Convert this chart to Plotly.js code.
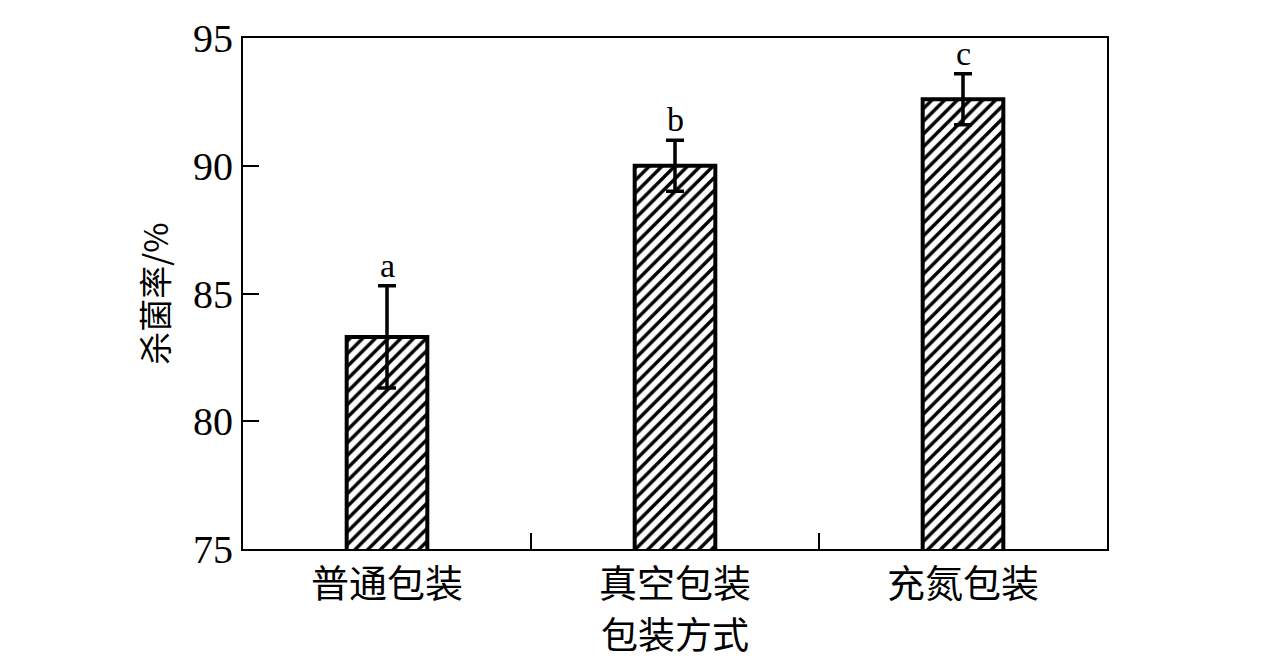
<!DOCTYPE html>
<html>
<head>
<meta charset="utf-8">
<script src="https://cdn.plot.ly/plotly-3.0.1.min.js"></script>
<style>html,body{margin:0;padding:0;background:#fff;}#chart{width:1276px;height:660px;}</style>
</head>
<body>
<div id="chart"></div>
<script>
const categories = ['普通包装', '真空包装', '充氮包装'];
const values = [83.3, 90.0, 92.6];
const errors = [2.0, 1.0, 1.0];
const letters = ['a', 'b', 'c'];
const yTicks = [75, 80, 85, 90, 95];

const serif = 'Liberation Serif, Times New Roman, Noto Sans CJK SC, serif';
const cjk = 'Noto Sans CJK SC, Liberation Serif, serif';

const trace = {
  type: 'bar',
  x: categories,
  y: values,
  base: 0,
  width: 0.28,
  marker: {
    color: '#ffffff',
    line: {color: '#000000', width: 4},
    pattern: {shape: '/', fgcolor: '#000000', bgcolor: '#ffffff', size: 9, solidity: 0.38}
  },
  error_y: {type: 'data', array: errors, visible: true, color: '#000000', thickness: 3.5, width: 9},
  hoverinfo: 'skip'
};

const annotations = categories.map((c, i) => ({
  x: c, y: values[i] + errors[i], xref: 'x', yref: 'y',
  text: letters[i], showarrow: false, yanchor: 'bottom', yshift: 0,
  font: {family: serif, size: 34, color: '#000'}
}));

const layout = {
  width: 1276, height: 660,
  margin: {l: 243, r: 169, t: 38, b: 111},
  paper_bgcolor: '#fff', plot_bgcolor: '#fff',
  showlegend: false,
  xaxis: {
    type: 'category', range: [-0.5, 2.5],
    tickson: 'boundaries', ticks: 'inside', ticklen: 16, tickwidth: 2, tickcolor: '#000',
    showline: true, linecolor: '#000', linewidth: 2, mirror: true,
    showgrid: false, zeroline: false,
    tickfont: {family: cjk, size: 38, color: '#000'},
    title: {text: '包装方式', font: {family: cjk, size: 37, color: '#000'}, standoff: 6}
  },
  yaxis: {
    range: [75, 95], tickvals: yTicks, ticktext: yTicks.map(String),
    ticks: 'inside', ticklen: 16, tickwidth: 2, tickcolor: '#000',
    showline: true, linecolor: '#000', linewidth: 2, mirror: true,
    showgrid: false, zeroline: false,
    tickfont: {family: serif, size: 40, color: '#000'},
    title: {text: '杀菌率/%', font: {family: cjk, size: 33, color: '#000'}, standoff: 14}
  },
  annotations: annotations
};

Plotly.newPlot('chart', [trace], layout, {displayModeBar: false, staticPlot: true});
</script>
</body>
</html>
